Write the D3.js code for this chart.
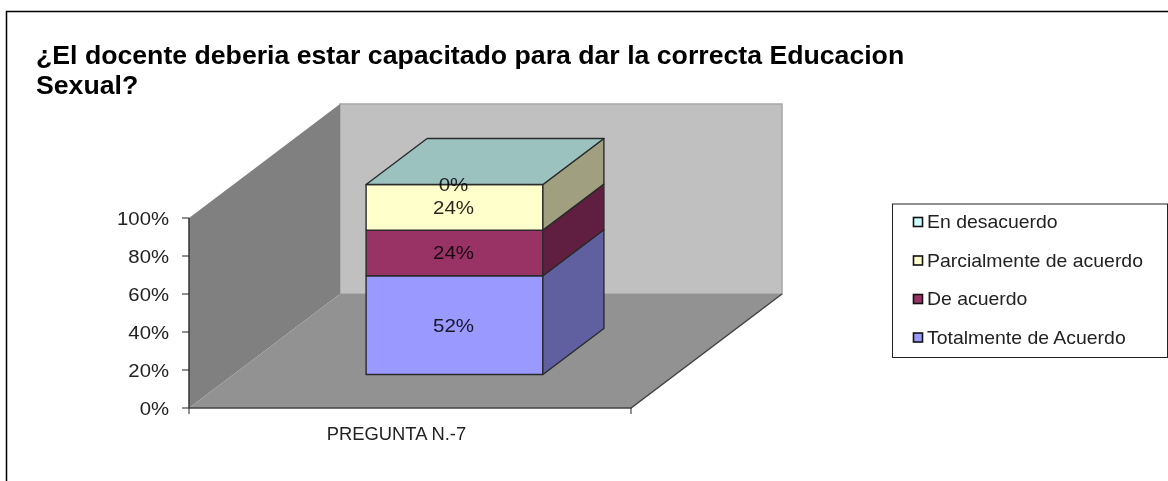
<!DOCTYPE html>
<html><head><meta charset="utf-8">
<script src="https://cdn.jsdelivr.net/npm/d3@7"></script>
<style>html,body{margin:0;padding:0;background:#fff}svg{display:block}text{font-family:"Liberation Sans",Arial,sans-serif}svg>*:not(.border){filter:blur(.4px)}</style>
</head><body><svg id="c" width="1168" height="481"></svg>
<script>
const titleLines=["¿El docente deberia estar capacitado para dar la correcta Educacion","Sexual?"];
const categories=["PREGUNTA N.-7"];
const seriesNames=["Totalmente de Acuerdo","De acuerdo","Parcialmente de acuerdo","En desacuerdo"];
const seriesValues=[52,24,24,0];
const seriesColors=["#9999ff","#993366","#ffffcc","#ccffff"];
const sideColors=["#6060a0","#601f40","#a0a080","#a0a080"];
const topColor="#9cc2c0";
const yTicks=[0,20,40,60,80,100];

const svg=d3.select("#c");
const y=d3.scaleLinear().domain([0,100]).range([408,218]);
const x=d3.scaleBand().domain(categories).range([189,631]).paddingInner(0.6).paddingOuter(0.3);
const depth={dx:151,dy:-114};
const barOff={dx:44.5,dy:-33.5};
const barDepth={dx:61,dy:-46};
const poly=(pts)=>d3.line()(pts)+"Z";
const place=(px,py,sx)=>`translate(${px},${py}) scale(${sx},1)`;

svg.append("rect").attr("class","border").attr("x",6.5).attr("y",11.5).attr("width",1170).attr("height",480).attr("fill","#fff").attr("stroke","#000").attr("stroke-width",1.5);
svg.selectAll(".title").data(titleLines).join("text").attr("transform",(d,i)=>place(36,63.5+i*30.5,1.046))
  .attr("font-size",25.5).attr("font-weight","bold").attr("fill","#000").text(d=>d);

const x0=189,x1=631,y0=y(0),yT=y(100);
svg.append("path").attr("d",poly([[x0+depth.dx,y0+depth.dy],[x1+depth.dx,y0+depth.dy],[x1+depth.dx,yT+depth.dy],[x0+depth.dx,yT+depth.dy]])).attr("fill","#c0c0c0").attr("stroke","#a6a6a6").attr("stroke-width",1.5);
svg.append("path").attr("d",poly([[x0,y0],[x0+depth.dx,y0+depth.dy],[x0+depth.dx,yT+depth.dy],[x0,yT]])).attr("fill","#808080");
svg.append("path").attr("d",poly([[x0,y0],[x1,y0],[x1+depth.dx,y0+depth.dy],[x0+depth.dx,y0+depth.dy]])).attr("fill","#929292");

// axes
svg.append("path").attr("d",`M${x0},${yT}V${y0}`).attr("stroke","#333").attr("stroke-width",1.5).attr("fill","none");
svg.append("path").attr("d",`M${x0},${y0}H${x1}L${x1+depth.dx},${y0+depth.dy}`).attr("stroke","#444").attr("stroke-width",1.5).attr("fill","none");
svg.selectAll(".yt").data(yTicks).join("line").attr("x1",x0-7).attr("x2",x0).attr("y1",d=>y(d)).attr("y2",d=>y(d)).attr("stroke","#222");
svg.selectAll(".yl").data(yTicks).join("text").attr("transform",d=>place(169,y(d)+6.5,1.07)).attr("text-anchor","end").attr("font-size",19).attr("fill","#222").text(d=>d+"%");
svg.selectAll(".xt").data([x0,x1]).join("line").attr("x1",d=>d).attr("x2",d=>d).attr("y1",y0).attr("y2",y0+6).attr("stroke","#222");
svg.selectAll(".xl").data(categories).join("text").attr("transform",d=>place(x(d)+x.bandwidth()/2-13.5,440,1.02)).attr("text-anchor","middle").attr("font-size",18).attr("fill","#222").text(d=>d);

// stacked bar
const stack=[];let acc=0;
seriesValues.forEach((v,i)=>{stack.push({i,v,a:acc,b:acc+v});acc+=v;});
const cat=categories[0];
const bx0=x(cat)+barOff.dx,bx1=bx0+x.bandwidth();
const Y=v=>y(v)+barOff.dy;
const g=svg.append("g").attr("stroke","#2a2a2a").attr("stroke-width",1.4).attr("stroke-linejoin","round");
stack.filter(s=>s.v>0).forEach(s=>{
  g.append("path").attr("d",poly([[bx0,Y(s.a)],[bx1,Y(s.a)],[bx1,Y(s.b)],[bx0,Y(s.b)]])).attr("fill",seriesColors[s.i]);
  g.append("path").attr("d",poly([[bx1,Y(s.a)],[bx1+barDepth.dx,Y(s.a)+barDepth.dy],[bx1+barDepth.dx,Y(s.b)+barDepth.dy],[bx1,Y(s.b)]])).attr("fill",sideColors[s.i]);
});
g.append("path").attr("d",poly([[bx0,Y(100)],[bx1,Y(100)],[bx1+barDepth.dx,Y(100)+barDepth.dy],[bx0+barDepth.dx,Y(100)+barDepth.dy]])).attr("fill",topColor);
svg.selectAll(".dl").data(stack).join("text").attr("transform",s=>place((bx0+bx1)/2-1,Y((s.a+s.b)/2)+6.5,1.08))
  .attr("text-anchor","middle").attr("font-size",19).attr("fill","#000").attr("fill-opacity",.85).text(s=>s.v+"%");

// legend
svg.append("rect").attr("x",892.5).attr("y",204).attr("width",275).attr("height",153.5).attr("fill","#fff").attr("stroke","#222");
const legendOrder=d3.range(seriesNames.length).reverse();
const ly=d3.scalePoint().domain(legendOrder).range([222,337.5]);
const lg=svg.selectAll(".lg").data(legendOrder).join("g").attr("transform",d=>`translate(0,${ly(d)})`);
lg.append("rect").attr("x",913.5).attr("y",-4.5).attr("width",9).attr("height",9).attr("fill",d=>seriesColors[d]).attr("stroke","#111").attr("stroke-width",1.6);
lg.append("text").attr("transform",place(927,6,1.08)).attr("font-size",18).attr("fill","#222").text(d=>seriesNames[d]);
</script></body></html>
